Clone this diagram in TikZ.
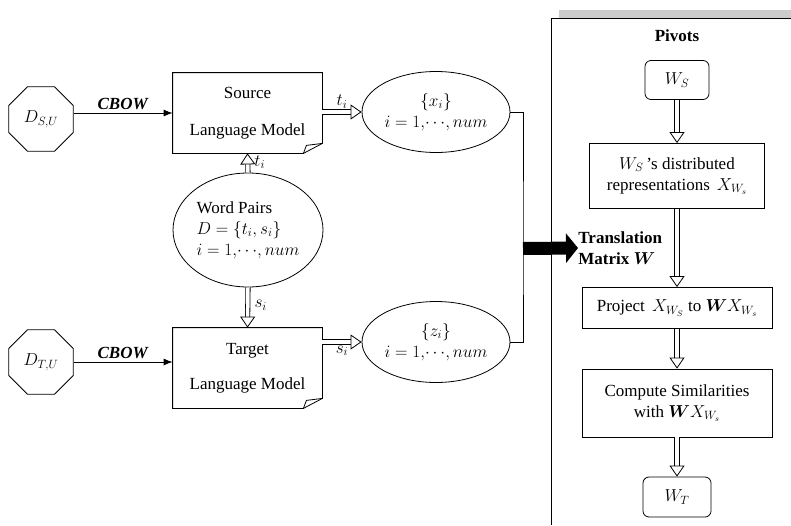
\documentclass[tikz,border=0pt]{standalone}
\usepackage{amsmath}
\usepackage{fontspec}
\setmainfont{Liberation Serif}
\usetikzlibrary{shapes, arrows.meta, positioning}

\tikzset{
  model/.style={minimum width=149pt, minimum height=80pt, align=center, inner sep=0pt},
  setell/.style={draw, ellipse, minimum width=148pt, minimum height=81pt, align=center, inner sep=0pt},
  corpus/.style={draw, regular polygon, regular polygon sides=8, minimum size=70pt, inner sep=0pt},
  stepbox/.style={draw, rectangle, align=center, minimum width=190pt},
  wordbox/.style={draw, rounded corners=6pt, minimum width=64pt, minimum height=39pt},
  hollow/.style={double, double distance=3.5pt, line width=0.8pt,
    -{Triangle[open, fill=white, line width=0.8pt, length=11pt, width=15pt]}},
  feed/.style={-{Latex[length=9pt, width=7pt]}, line width=0.8pt},
}

\begin{document}
\begin{tikzpicture}[x=1pt, y=-1pt, line width=0.8pt, font=\fontsize{17}{21}\selectfont]
	\useasboundingbox (0,0) rectangle (791,525);
	
	%% Corpora and language models
	\node [corpus] (dsu) at (41,119) {$D_{S,U}$};
	\node [corpus] (dtu) at (41,362) {$D_{T,U}$};
	\node [model] (srclm) at (247.5,113) {Source\\[16pt]Language Model};
	\node [model] (tgtlm) at (247.5,368) {Target\\[14pt]Language Model};
	
	\foreach \m in {srclm,tgtlm}{
		\draw ([xshift=-19pt]\m.south east) -- (\m.south west) -- (\m.north west)
		-- (\m.north east) -- ([yshift=10pt]\m.south east) -- cycle;
		\draw ([xshift=-19pt]\m.south east) .. controls +(1pt,4pt) .. ([xshift=-16pt,yshift=8pt]\m.south east)
		-- ([yshift=10pt]\m.south east);
	}
	
	\draw [feed] (dsu.east |- srclm.west) -- (srclm.west)
	node [midway, above] {\textbf{\textit{CBOW}}};
	\draw [feed] (dtu.east) -- (dtu.east -| tgtlm.west)
	node [midway, above] {\textbf{\textit{CBOW}}};
	
	%% Word pairs and vector sets
	\node [draw, ellipse, minimum width=150pt, minimum height=114pt, align=left, inner sep=0pt]
	(pairs) at (248,230) {Word Pairs\\$D=\{t_i,s_i\}$\\$i=1,\!\cdots\!,num$};
	\node [setell] (xset) at (436,112) {$\{x_i\}$\\$i=1,\!\cdots\!,num$};
	\node [setell] (zset) at (436,342) {$\{z_i\}$\\$i=1,\!\cdots\!,num$};
	
	\draw [hollow] (pairs.north) -- (srclm.south)
	node [pos=0.55, right=3pt] {$t_i$};
	\draw [hollow] (pairs.south) -- (tgtlm.north)
	node [pos=0.45, right=3pt] {$s_i$};
	\draw [hollow] (srclm.east |- xset.west) -- (xset.west)
	node [midway, above] {$t_i$};
	\draw [hollow] (tgtlm.east |- zset.west) -- (zset.west)
	node [midway, below] {$s_i$};
	
	%% Translation matrix
	\coordinate (join) at (523,248.5);
	\node [anchor=west, align=left, inner sep=0pt] (trans) at (578,248)
	{\textbf{Translation}\\\textbf{Matrix} $\boldsymbol{W}$};
	\draw (xset.east) -| (join) |- (zset.east);
	\draw [line width=13pt, -{Triangle[length=12pt, width=29pt]}] (join) -- (trans.west);
	
	%% Pivots panel
	\fill [gray!40] (559,10) rectangle (791,18);
	\draw (791,18) -| (551,525);
	\node (pivots) at (677,36) {\textbf{Pivots}};
	\node [wordbox] (ws) at (677,80) {$W_S$};
	\node [stepbox, minimum width=175pt, minimum height=65pt] (wsrep) at (677,176)
	{$W_S$\,'s distributed\\representations\, $X_{W_s}$};
	\node [stepbox, minimum height=41pt] (proj) at (677,308)
	{Project\, $X_{W_S}$ to $\boldsymbol{W}X_{W_s}$};
	\node [stepbox, minimum height=68pt] (simil) at (677,403)
	{Compute Similarities\\with $\boldsymbol{W}X_{W_s}$};
	\node [wordbox, minimum width=68pt, minimum height=40pt] (wt) at (677,497) {$W_T$};
	
	\draw [hollow] (ws) -- (wsrep);
	\draw [hollow] (wsrep) -- (proj);
	\draw [hollow] (proj) -- (simil);
	\draw [hollow] (simil) -- (wt);
	
\end{tikzpicture}
\end{document}
